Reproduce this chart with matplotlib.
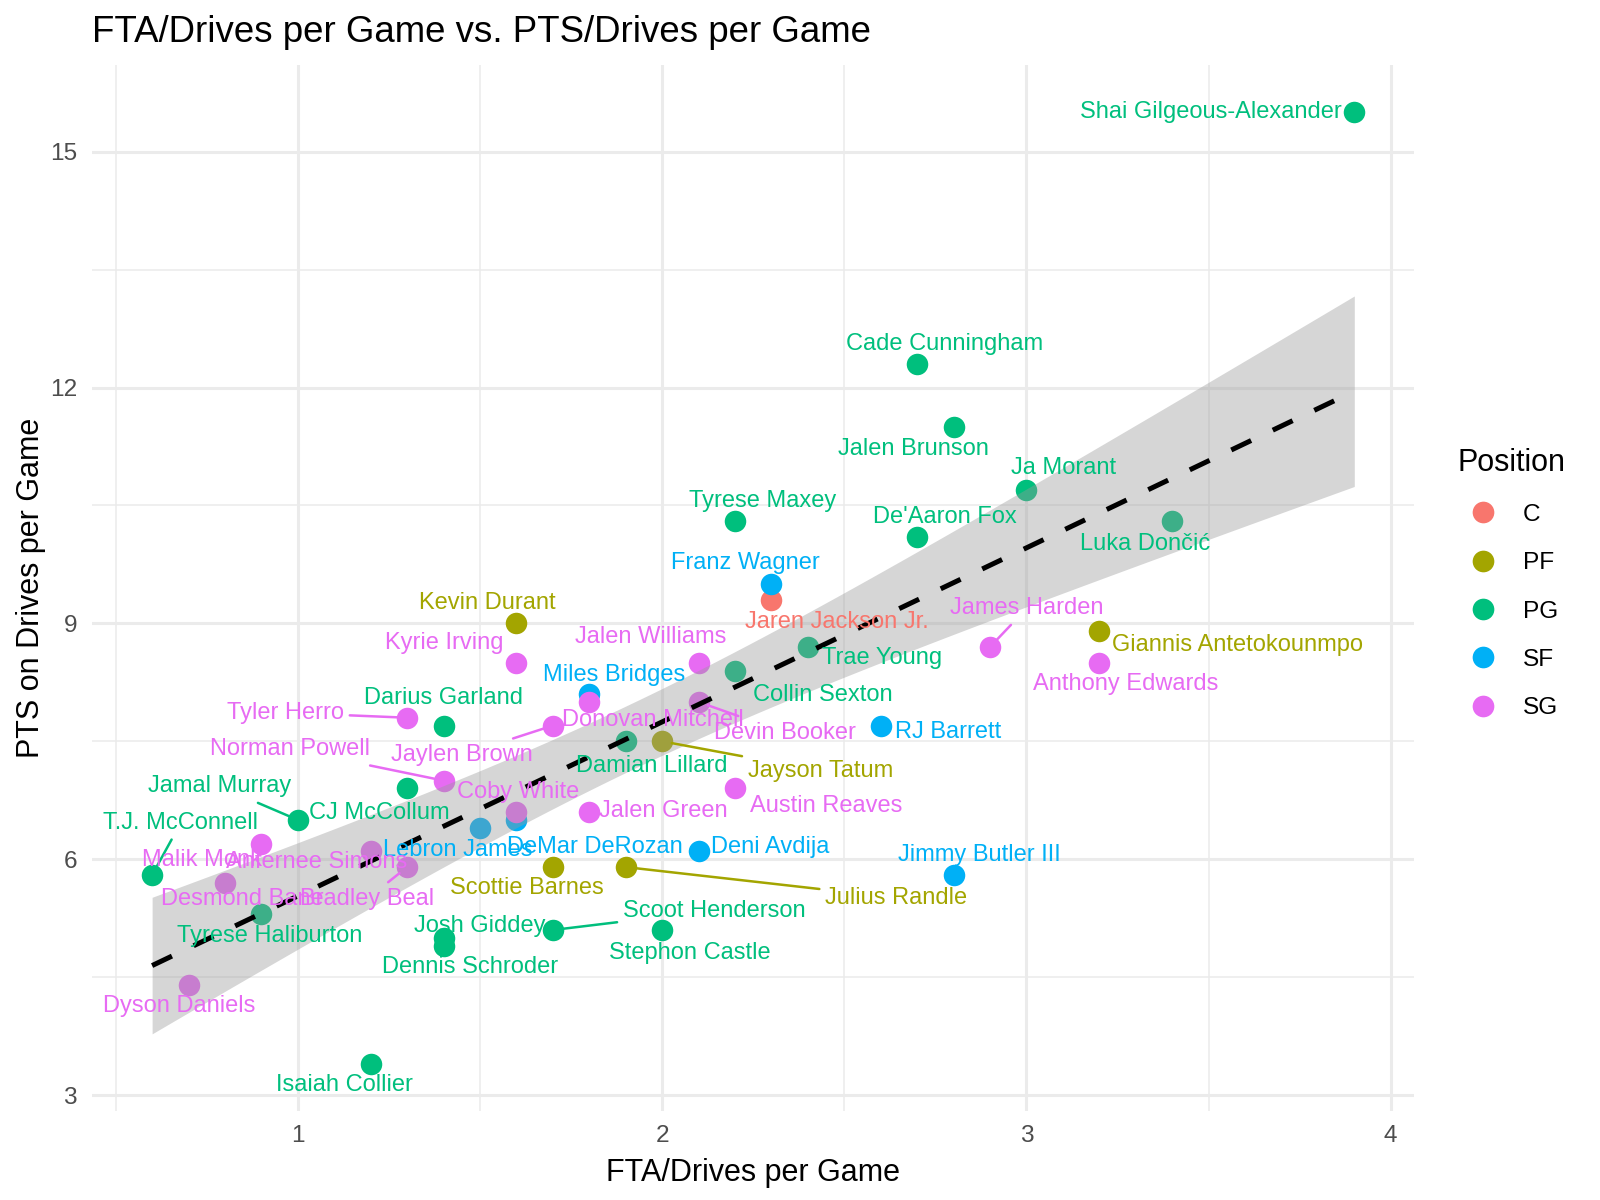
import numpy as np
import matplotlib
matplotlib.use('Agg')
import matplotlib.pyplot as plt
from matplotlib.lines import Line2D

plt.rcParams['font.family'] = ['Liberation Sans', 'DejaVu Sans']

players = ["Shai Gilgeous-Alexander", "Cade Cunningham", "Jalen Brunson", "Ja Morant", "Luka Dončić",
           "Tyrese Maxey", "De'Aaron Fox", "Franz Wagner", "Jaren Jackson Jr.", "Kevin Durant",
           "Giannis Antetokounmpo", "James Harden", "Trae Young", "Kyrie Irving", "Jalen Williams",
           "Anthony Edwards", "Collin Sexton", "Miles Bridges", "Donovan Mitchell", "Devin Booker",
           "Darius Garland", "Tyler Herro", "RJ Barrett", "Damian Lillard", "Jayson Tatum",
           "Norman Powell", "Jaylen Brown", "Jamal Murray", "CJ McCollum", "Coby White",
           "DeMar DeRozan", "Lebron James", "Jalen Green", "Austin Reaves", "Deni Avdija",
           "Jimmy Butler III", "Scottie Barnes", "Julius Randle", "T.J. McConnell", "Malik Monk",
           "Anfernee Simons", "Bradley Beal", "Desmond Bane", "Tyrese Haliburton", "Josh Giddey",
           "Dennis Schroder", "Scoot Henderson", "Stephon Castle", "Dyson Daniels", "Isaiah Collier"]
position = ["PG", "PG", "PG", "PG", "PG",
            "PG", "PG", "SF", "C", "PF",
            "PF", "SG", "PG", "SG", "SG",
            "SG", "PG", "SF", "SG", "SG",
            "PG", "SG", "SF", "PG", "PF",
            "SG", "SG", "PG", "PG", "SG",
            "SF", "SF", "SG", "SG", "SF",
            "SF", "PF", "PF", "PG", "SG",
            "SG", "SG", "SG", "PG", "PG",
            "PG", "PG", "PG", "SG", "PG"]
fta = [3.9, 2.7, 2.8, 3.0, 3.4,
       2.2, 2.7, 2.3, 2.3, 1.6,
       3.2, 2.9, 2.4, 1.6, 2.1,
       3.2, 2.2, 1.8, 1.8, 2.1,
       1.4, 1.3, 2.6, 1.9, 2.0,
       1.4, 1.7, 1.0, 1.3, 1.6,
       1.6, 1.5, 1.8, 2.2, 2.1,
       2.8, 1.7, 1.9, 0.6, 0.9,
       1.2, 1.3, 0.8, 0.9, 1.4,
       1.4, 1.7, 2.0, 0.7, 1.2]
pts = [15.5, 12.3, 11.5, 10.7, 10.3,
       10.3, 10.1, 9.5, 9.3, 9.0,
       8.9, 8.7, 8.7, 8.5, 8.5,
       8.5, 8.4, 8.1, 8.0, 8.0,
       7.7, 7.8, 7.7, 7.5, 7.5,
       7.0, 7.7, 6.5, 6.9, 6.6,
       6.5, 6.4, 6.6, 6.9, 6.1,
       5.8, 5.9, 5.9, 5.8, 6.2,
       6.1, 5.9, 5.7, 5.3, 5.0,
       4.9, 5.1, 5.1, 4.4, 3.4]

positions = ["C", "PF", "PG", "SF", "SG"]
pos_colors = {"C": "#F8766D", "PF": "#A3A500", "PG": "#00BF7D", "SF": "#00B0F6", "SG": "#E76BF3"}

# label offsets (points) from each point, and whether a connector segment is drawn
label_offsets = {
    "Shai Gilgeous-Alexander": (-51.7, 0), "Cade Cunningham": (9.9, 7.3), "Jalen Brunson": (-14.3, -8.1),
    "Ja Morant": (13.2, 7.7), "Luka Dončić": (-9.9, -8.1), "Tyrese Maxey": (9.9, 7.3),
    "De'Aaron Fox": (9.9, 7.0), "Franz Wagner": (-9.5, 7.7), "Jaren Jackson Jr.": (23.5, -8.1),
    "Kevin Durant": (-10.3, 7.3), "Giannis Antetokounmpo": (49.9, -4.8), "James Harden": (13.2, 13.9),
    "Trae Young": (26.8, -4.0), "Kyrie Irving": (-26.1, 7.0), "Jalen Williams": (-17.2, 9.2),
    "Anthony Edwards": (9.5, -7.7), "Collin Sexton": (31.6, -8.8), "Miles Bridges": (8.8, 7.0),
    "Donovan Mitchell": (22.8, -6.6), "Devin Booker": (31.2, -11.0), "Darius Garland": (0, 9.9),
    "Tyler Herro": (-43.7, 1.8), "RJ Barrett": (24.2, -2.2), "Damian Lillard": (9.5, -8.8),
    "Jayson Tatum": (56.9, -10.6), "Norman Powell": (-55.4, 11.4), "Jaylen Brown": (-32.7, -10.6),
    "Jamal Murray": (-28.3, 12.1), "CJ McCollum": (-9.9, -8.8), "Coby White": (0.7, 7.3),
    "DeMar DeRozan": (28.3, -9.9), "Lebron James": (-8.1, -8.1), "Jalen Green": (26.8, 0.4),
    "Austin Reaves": (33.0, -6.2), "Deni Avdija": (25.7, 1.5), "Jimmy Butler III": (9.2, 7.3),
    "Scottie Barnes": (-9.5, -7.7), "Julius Randle": (97.3, -11.0), "T.J. McConnell": (10.3, 18.7),
    "Malik Monk": (-21.3, -5.9), "Anfernee Simons": (-19.5, -4.0), "Bradley Beal": (-14.3, -11.4),
    "Desmond Bane": (6.2, -5.9), "Tyrese Haliburton": (2.9, -7.7), "Josh Giddey": (13.2, 4.4),
    "Dennis Schroder": (9.5, -7.7), "Scoot Henderson": (58.0, 7.0), "Stephon Castle": (9.9, -8.4),
    "Dyson Daniels": (-3.3, -7.7), "Isaiah Collier": (-9.5, -7.7),
}
with_segment = {"James Harden", "Devin Booker", "Tyler Herro", "Jayson Tatum", "Norman Powell",
                "Jaylen Brown", "Jamal Murray", "Julius Randle", "T.J. McConnell", "Bradley Beal",
                "Scoot Henderson"}

x = np.array(fta)
y = np.array(pts)

fig = plt.figure(figsize=(8, 6), dpi=200)
ax = fig.add_axes([0.0575, 0.074, 0.884 - 0.0575, 0.946 - 0.074])

# points
for p in positions:
    m = np.array([q == p for q in position])
    ax.scatter(x[m], y[m], s=60, color=pos_colors[p], linewidths=0, zorder=3)

# linear fit with 95% confidence band
n = len(x)
slope, intercept = np.polyfit(x, y, 1)
xs = np.linspace(x.min(), x.max(), 80)
ys = intercept + slope * xs
resid = y - (intercept + slope * x)
s_err = np.sqrt(np.sum(resid ** 2) / (n - 2))
sxx = np.sum((x - x.mean()) ** 2)
t_val = 2.0106  # t(0.975, df=48)
band = t_val * s_err * np.sqrt(1.0 / n + (xs - x.mean()) ** 2 / sxx)
ax.fill_between(xs, ys - band, ys + band, color='#999999', alpha=0.4, linewidth=0, zorder=4)
ax.plot(xs, ys, color='black', lw=1.8, dashes=(4.4, 4.8), zorder=5)

# labels
for name, xi, yi, p in zip(players, x, y, position):
    dx, dy = label_offsets[name]
    c = pos_colors[p]
    kw = {}
    if name in with_segment:
        kw['arrowprops'] = dict(arrowstyle='-', color=c, lw=0.9, shrinkA=0, shrinkB=3.5)
    ax.annotate(name, (xi, yi), xytext=(dx, dy), textcoords='offset points',
                ha='center', va='center', fontsize=8.5, color=c, zorder=6, **kw)

# axes styling (theme_minimal look)
xr = x.max() - x.min()
yr = y.max() - y.min()
ax.set_xlim(x.min() - 0.05 * xr, x.max() + 0.05 * xr)
ax.set_ylim(y.min() - 0.05 * yr, y.max() + 0.05 * yr)
ax.set_xticks([1, 2, 3, 4])
ax.set_yticks([3, 6, 9, 12, 15])
ax.set_xticks([0.5, 1.5, 2.5, 3.5], minor=True)
ax.set_yticks([4.5, 7.5, 10.5, 13.5], minor=True)
ax.grid(which='major', color='#EBEBEB', lw=1.1, zorder=0)
ax.grid(which='minor', color='#EBEBEB', lw=0.55, zorder=0)
ax.set_axisbelow(True)
for sp in ax.spines.values():
    sp.set_visible(False)
ax.tick_params(which='both', length=0, labelsize=8.8, labelcolor='#4D4D4D')
ax.tick_params(axis='y', pad=5.4)
ax.tick_params(axis='x', pad=5)

ax.set_xlabel("FTA/Drives per Game", fontsize=11, labelpad=4)
ax.set_ylabel("PTS on Drives per Game", fontsize=11, labelpad=1.5)
fig.text(0.0575, 0.973, "FTA/Drives per Game vs. PTS/Drives per Game", fontsize=13.2,
         ha='left', va='center')

handles = [Line2D([], [], marker='o', linestyle='', markersize=7.8, markeredgewidth=0,
                  color=pos_colors[p]) for p in positions]
leg = fig.legend(handles, positions, title="Position", loc='upper left',
                 bbox_to_anchor=(0.905, 0.635), frameon=False, fontsize=8.8,
                 title_fontsize=11, labelspacing=1.07, handletextpad=0.55,
                 handlelength=2.1, borderaxespad=0)
leg._legend_box.align = 'left'

fig.savefig('out.png', dpi=200)
